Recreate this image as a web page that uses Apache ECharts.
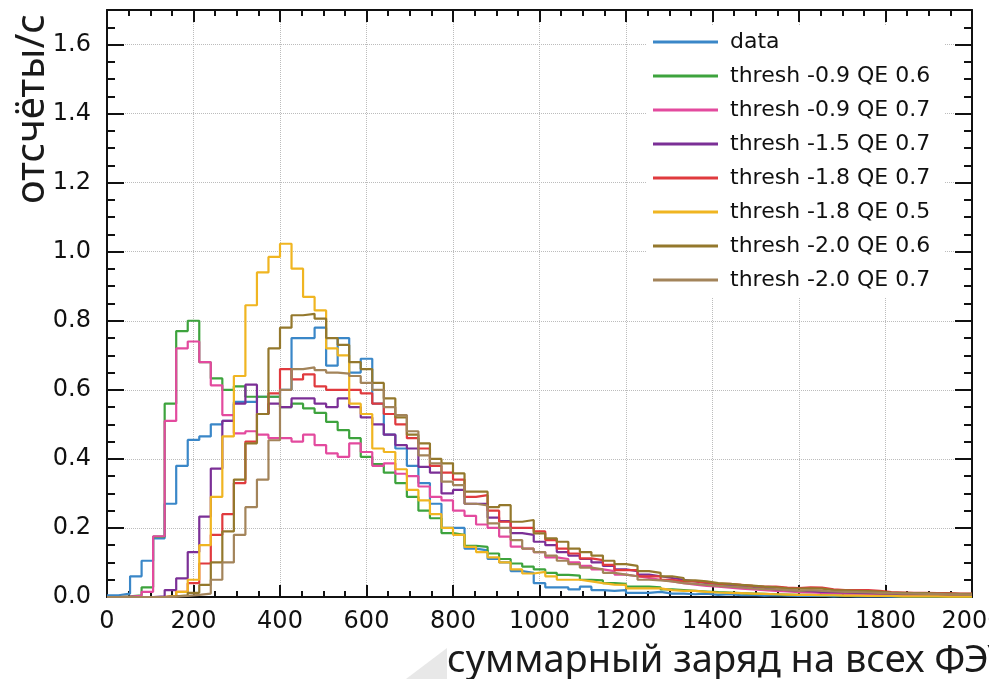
<!DOCTYPE html>
<html>
<head>
<meta charset="utf-8">
<script src="https://cdn.jsdelivr.net/npm/echarts@6/dist/echarts.min.js"></script>
<style>
  html, body { margin: 0; padding: 0; background: #fff; }
  #chart { width: 989px; height: 679px; }
</style>
</head>
<body>
<div id="chart"></div>
<script>
// histogram: 75 bins over 0..2000
const X_MAX = 2000;
const BIN_COUNT = 75;

const seriesNames = [
  "data",
  "thresh -0.9 QE 0.6",
  "thresh -0.9 QE 0.7",
  "thresh -1.5 QE 0.7",
  "thresh -1.8 QE 0.7",
  "thresh -1.8 QE 0.5",
  "thresh -2.0 QE 0.6",
  "thresh -2.0 QE 0.7",
];
const seriesColors = ["#3a87c8", "#3da33d", "#e34a9e", "#7b2f96", "#e03a3e", "#f0b521", "#94782c", "#a3845a"];

const dataCounts = [
  0.005, 0.01, 0.06, 0.105, 0.17, 0.27, 0.38, 0.455, 0.465, 0.50,
  0.51, 0.565, 0.565, 0.58, 0.58, 0.60, 0.75, 0.75, 0.78, 0.67,
  0.75, 0.65, 0.69, 0.56, 0.47, 0.43, 0.38, 0.33, 0.27, 0.20,
  0.20, 0.14, 0.135, 0.11, 0.10, 0.075, 0.07, 0.04, 0.028, 0.028,
  0.022, 0.03, 0.02, 0.018, 0.02, 0.012, 0.012, 0.015, 0.01, 0.01,
  0.008, 0.01, 0.006, 0.008, 0.005, 0.006, 0.004, 0.005, 0.004, 0.003,
  0.003, 0.004, 0.002, 0.003, 0.002, 0.002, 0.002, 0.001, 0.002, 0.001,
  0.001, 0.001, 0.001, 0.001, 0.001];
const t09qe06 = [
  0, 0.002, 0.005, 0.028, 0.175, 0.56, 0.77, 0.80, 0.68, 0.633,
  0.60, 0.61, 0.58, 0.58, 0.58, 0.55, 0.56, 0.546, 0.533, 0.507,
  0.483, 0.46, 0.406, 0.385, 0.36, 0.33, 0.29, 0.25, 0.228, 0.185,
  0.18, 0.148, 0.145, 0.126, 0.11, 0.097, 0.088, 0.08, 0.07, 0.064,
  0.062, 0.05, 0.048, 0.04, 0.038, 0.03, 0.03, 0.028, 0.022, 0.02,
  0.018, 0.016, 0.014, 0.013, 0.011, 0.01, 0.009, 0.008, 0.007, 0.006,
  0.006, 0.005, 0.005, 0.004, 0.004, 0.003, 0.003, 0.003, 0.002, 0.002,
  0.002, 0.002, 0.001, 0.001, 0.001];
const t09qe07 = [
  0, 0.001, 0.003, 0.015, 0.176, 0.51, 0.72, 0.74, 0.68, 0.613,
  0.527, 0.474, 0.48, 0.47, 0.46, 0.46, 0.45, 0.47, 0.44, 0.416,
  0.406, 0.445, 0.42, 0.38, 0.387, 0.357, 0.35, 0.32, 0.29, 0.28,
  0.25, 0.235, 0.21, 0.20, 0.175, 0.146, 0.14, 0.13, 0.115, 0.11,
  0.10, 0.09, 0.08, 0.075, 0.065, 0.06, 0.055, 0.05, 0.045, 0.04,
  0.036, 0.032, 0.03, 0.027, 0.024, 0.022, 0.02, 0.018, 0.016, 0.014,
  0.013, 0.012, 0.011, 0.01, 0.009, 0.008, 0.007, 0.007, 0.006, 0.005,
  0.005, 0.004, 0.004, 0.003, 0.003];
const t15qe07 = [
  0, 0, 0, 0, 0.002, 0.02, 0.054, 0.13, 0.233, 0.372,
  0.51, 0.56, 0.615, 0.53, 0.56, 0.55, 0.575, 0.575, 0.56, 0.55,
  0.575, 0.55, 0.52, 0.50, 0.47, 0.44, 0.43, 0.377, 0.36, 0.30,
  0.31, 0.27, 0.27, 0.23, 0.22, 0.185, 0.18, 0.16, 0.15, 0.13,
  0.12, 0.11, 0.10, 0.09, 0.08, 0.075, 0.065, 0.06, 0.055, 0.05,
  0.045, 0.04, 0.037, 0.033, 0.03, 0.027, 0.025, 0.022, 0.02, 0.018,
  0.017, 0.015, 0.014, 0.013, 0.012, 0.011, 0.01, 0.009, 0.008, 0.008,
  0.007, 0.006, 0.006, 0.005, 0.005];
const t18qe07 = [
  0, 0, 0, 0, 0, 0.003, 0.015, 0.04, 0.097, 0.18,
  0.24, 0.33, 0.45, 0.53, 0.59, 0.66, 0.63, 0.645, 0.61, 0.60,
  0.60, 0.60, 0.59, 0.56, 0.53, 0.50, 0.46, 0.43, 0.38, 0.36,
  0.34, 0.29, 0.295, 0.25, 0.218, 0.20, 0.20, 0.19, 0.165, 0.14,
  0.126, 0.112, 0.107, 0.093, 0.078, 0.078, 0.06, 0.06, 0.05, 0.045,
  0.045, 0.042, 0.038, 0.038, 0.035, 0.032, 0.03, 0.03, 0.027, 0.026,
  0.028, 0.027, 0.022, 0.02, 0.02, 0.02, 0.018, 0.014, 0.013, 0.012,
  0.012, 0.011, 0.011, 0.01, 0.01];
const t18qe05 = [
  0, 0, 0, 0, 0, 0.003, 0.015, 0.05, 0.15, 0.29,
  0.465, 0.64, 0.845, 0.94, 0.985, 1.023, 0.951, 0.869, 0.83, 0.72,
  0.70, 0.56, 0.53, 0.43, 0.42, 0.37, 0.31, 0.28, 0.24, 0.20,
  0.18, 0.145, 0.13, 0.115, 0.10, 0.08, 0.068, 0.073, 0.06, 0.05,
  0.05, 0.045, 0.04, 0.036, 0.035, 0.025, 0.025, 0.025, 0.02, 0.018,
  0.018, 0.015, 0.013, 0.012, 0.011, 0.01, 0.009, 0.008, 0.007, 0.006,
  0.006, 0.005, 0.005, 0.004, 0.004, 0.003, 0.003, 0.003, 0.002, 0.002,
  0.002, 0.002, 0.001, 0.001, 0.001];
const t20qe06 = [
  0, 0, 0, 0, 0, 0.002, 0.005, 0.012, 0.035, 0.10,
  0.19, 0.34, 0.445, 0.53, 0.72, 0.78, 0.816, 0.82, 0.806, 0.75,
  0.73, 0.68, 0.66, 0.62, 0.575, 0.52, 0.47, 0.445, 0.40, 0.387,
  0.358, 0.305, 0.305, 0.26, 0.266, 0.218, 0.223, 0.184, 0.17, 0.16,
  0.14, 0.13, 0.12, 0.105, 0.095, 0.09, 0.075, 0.07, 0.06, 0.055,
  0.048, 0.045, 0.04, 0.038, 0.035, 0.033, 0.03, 0.028, 0.025, 0.024,
  0.025, 0.024, 0.02, 0.019, 0.018, 0.017, 0.016, 0.013, 0.012, 0.011,
  0.011, 0.01, 0.01, 0.009, 0.009];
const t20qe07 = [
  0, 0, 0, 0, 0, 0.001, 0.003, 0.006, 0.01, 0.05,
  0.10, 0.18, 0.26, 0.34, 0.454, 0.60, 0.66, 0.665, 0.657, 0.65,
  0.647, 0.64, 0.62, 0.60, 0.55, 0.527, 0.48, 0.41, 0.387, 0.334,
  0.324, 0.27, 0.265, 0.213, 0.20, 0.165, 0.14, 0.13, 0.12, 0.105,
  0.095, 0.085, 0.08, 0.07, 0.065, 0.06, 0.05, 0.048, 0.045, 0.04,
  0.038, 0.035, 0.032, 0.03, 0.028, 0.025, 0.023, 0.022, 0.02, 0.018,
  0.02, 0.018, 0.016, 0.015, 0.014, 0.013, 0.012, 0.011, 0.01, 0.01,
  0.009, 0.009, 0.008, 0.008, 0.007];

const allValues = [dataCounts, t09qe06, t09qe07, t15qe07, t18qe07, t18qe05, t20qe06, t20qe07];

const binWidth = X_MAX / BIN_COUNT;

// step data: left edge of each bin, plus closing point at the right end
function toSteps(values) {
  const pts = values.map((v, i) => [i * binWidth, v]);
  pts.push([X_MAX, values[values.length - 1]]);
  return pts;
}

const axisColor = "#111";
const labelFont = "DejaVu Sans";

function xAx(position, interval, tickLen, main) {
  return {
    type: "value",
    position: position,
    min: 0,
    max: X_MAX,
    interval: interval,
    axisLine: { show: main, onZero: false, lineStyle: { color: axisColor, width: 2 } },
    axisTick: { inside: true, length: tickLen, lineStyle: { color: axisColor, width: 2 } },
    axisLabel: {
      show: main && position === "bottom",
      color: "#111",
      fontFamily: labelFont,
      fontSize: 24,
      margin: 13,
      formatter: (v) => String(v),
    },
    splitLine: {
      show: main && position === "bottom",
      lineStyle: { type: "dotted", color: "#bcbcbc", width: 1 },
    },
  };
}

function yAx(position, interval, tickLen, main) {
  return {
    type: "value",
    position: position,
    min: 0,
    max: 1.7,
    interval: interval,
    axisLine: { show: main, onZero: false, lineStyle: { color: axisColor, width: 2 } },
    axisTick: { inside: true, length: tickLen, lineStyle: { color: axisColor, width: 2 } },
    axisLabel: {
      show: main && position === "left",
      color: "#111",
      fontFamily: labelFont,
      fontSize: 24,
      margin: 16,
      formatter: (v) => (Math.abs(v / 0.2 - Math.round(v / 0.2)) < 1e-6 ? v.toFixed(1) : ""),
    },
    splitLine: {
      show: main && position === "left",
      lineStyle: { type: "dotted", color: "#bcbcbc", width: 1 },
    },
  };
}

const chart = echarts.init(document.getElementById("chart"), null, { renderer: "canvas" });

chart.setOption({
  animation: false,
  backgroundColor: "#fff",
  color: seriesColors,
  grid: { left: 107, right: 17, top: 10, bottom: 82, containLabel: false, outerBoundsMode: "none" },
  xAxis: [
    xAx("bottom", 200, 12, true),
    xAx("bottom", 50, 6, false),
    xAx("top", 200, 12, true),
    xAx("top", 50, 6, false),
  ],
  yAxis: [
    yAx("left", 0.2, 17, true),
    yAx("left", 0.05, 8, false),
    yAx("right", 0.2, 17, true),
    yAx("right", 0.05, 8, false),
  ],
  legend: {
    orient: "vertical",
    left: 646,
    top: 25,
    padding: [5, 14, 6, 7],
    backgroundColor: "#fff",
    itemWidth: 65,
    itemHeight: 3,
    itemGap: 10,
    icon: "rect",
    textStyle: {
      fontFamily: labelFont,
      fontSize: 22,
      lineHeight: 24,
      color: "#111",
      padding: [0, 0, 0, 7],
    },
    data: seriesNames,
  },
  graphic: [
    {
      type: "polygon",
      shape: { points: [[406, 679], [447, 648], [447, 679]] },
      style: { fill: "#e8e8e8" },
      silent: true,
    },
    {
      type: "text",
      x: 53,
      y: 204,
      rotation: Math.PI / 2,
      style: {
        text: "отсчёты/с",
        font: '40px "Noto Sans"',
        fill: "#1a1a1a",
        align: "left",
        verticalAlign: "bottom",
      },
    },
    {
      type: "text",
      x: 447,
      y: 680,
      style: {
        text: "суммарный заряд на всех ФЭУ",
        font: '38px "Noto Sans"',
        fill: "#1a1a1a",
        align: "left",
        verticalAlign: "bottom",
      },
    },
  ],
  series: seriesNames.map((name, i) => ({
    name: name,
    type: "line",
    step: "end",
    xAxisIndex: 0,
    yAxisIndex: 0,
    symbol: "none",
    showSymbol: false,
    lineStyle: { width: 2.2, color: seriesColors[i] },
    data: toSteps(allValues[i]),
  })),
});
</script>
</body>
</html>
